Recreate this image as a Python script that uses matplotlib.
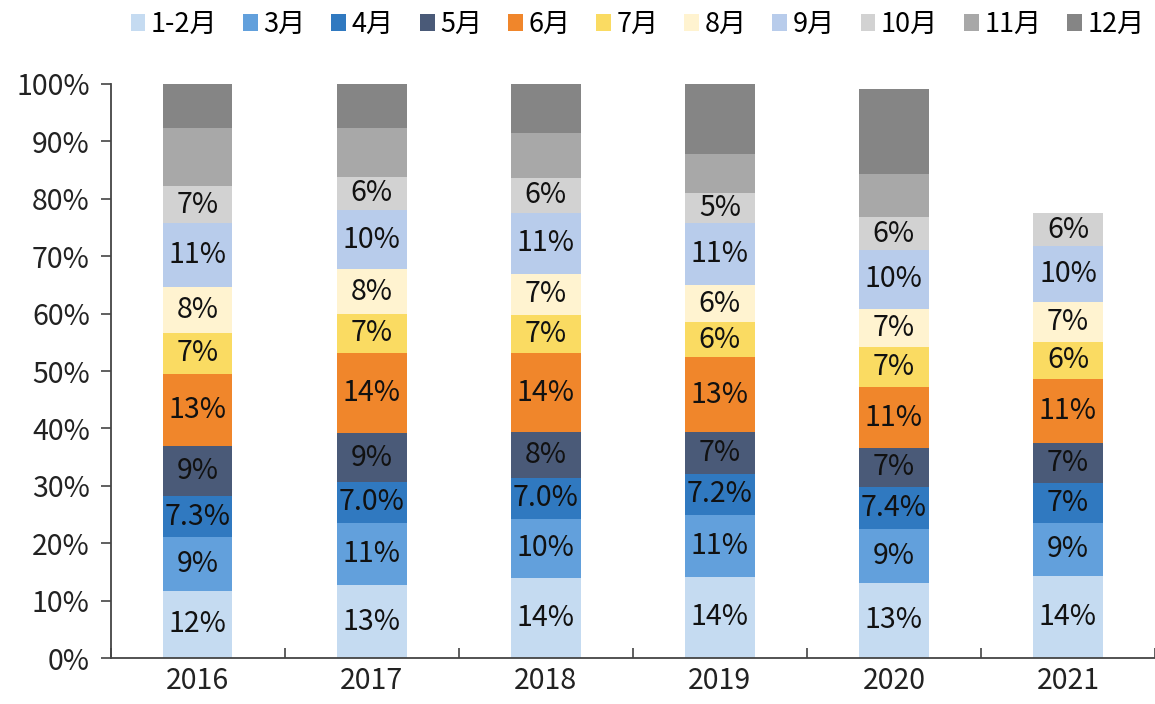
import matplotlib
matplotlib.use("Agg")
import matplotlib.pyplot as plt
import numpy as np
from matplotlib.patches import Patch

plt.rcParams['font.family'] = ['Noto Sans CJK SC', 'DejaVu Sans']

years = ['2016', '2017', '2018', '2019', '2020', '2021']
months = ['1-2月', '3月', '4月', '5月', '6月', '7月', '8月', '9月', '10月', '11月', '12月']

m12 = [11.7, 12.7, 13.9, 14.2, 13.1, 14.3]
m3 = [9.3, 10.9, 10.4, 10.7, 9.3, 9.3]
m4 = [7.3, 7.0, 7.0, 7.2, 7.4, 6.9]
m5 = [8.6, 8.6, 8.1, 7.3, 6.8, 6.9]
m6 = [12.6, 13.9, 13.7, 13.0, 10.6, 11.2]
m7 = [7.1, 6.9, 6.7, 6.1, 6.9, 6.5]
m8 = [8.0, 7.7, 7.1, 6.4, 6.7, 6.9]
m9 = [11.1, 10.4, 10.7, 10.8, 10.3, 9.7]
m10 = [6.6, 5.7, 6.1, 5.3, 5.7, 5.8]
m11 = [10.0, 8.5, 7.8, 6.8, 7.5, 0.0]
m12b = [7.7, 7.7, 8.5, 12.2, 14.8, 0.0]

series = [m12, m3, m4, m5, m6, m7, m8, m9, m10, m11, m12b]
# 4月 labels shown with one decimal (2021 rounded)
m4_labels = ['7.3%', '7.0%', '7.0%', '7.2%', '7.4%', '7%']
labelled = [True, True, True, True, True, True, True, True, True, False, False]

colors = ['#C5DBF1', '#62A0DC', '#3079C0', '#4A5A78', '#F0862B', '#FADB62',
          '#FFF3D0', '#B8CCEB', '#D2D2D2', '#A8A8A8', '#858585']

fig = plt.figure(figsize=(11.55, 7.04), dpi=100)
ax = fig.add_axes([0.0958, 0.0653, 0.9042, 0.8154])

x = np.arange(len(years))
bottom = np.zeros(len(years))
for i, (vals, c) in enumerate(zip(series, colors)):
    vals = np.array(vals)
    ax.bar(x, vals, 0.4, bottom=bottom, color=c, edgecolor='none', zorder=2)
    if labelled[i]:
        for j in range(len(years)):
            if vals[j] <= 0:
                continue
            if i == 2:
                txt = m4_labels[j]
            else:
                txt = f'{vals[j]:.0f}%'
            ax.text(x[j], bottom[j] + vals[j] / 2, txt, ha='center', va='center',
                    fontsize=20.5, color='#111111', zorder=3)
    bottom += vals

ax.set_xlim(-0.5, 5.5)
ax.set_ylim(0, 100)
ax.set_yticks(np.arange(0, 101, 10))
ax.set_yticklabels([f'{v}%' for v in range(0, 101, 10)], fontsize=20.5, color='#222222')
ax.set_xticks(x)
ax.set_xticklabels(years, fontsize=20.5, color='#222222')
ax.set_xticks(np.arange(-0.5, 6.0, 1.0), minor=True)
ax.tick_params(axis='x', which='major', length=0, pad=6)
ax.tick_params(axis='x', which='minor', direction='in', length=7, width=1.2, color='#444444')
ax.tick_params(axis='y', direction='out', length=7, width=1.2, color='#444444', pad=8)
for s in ['top', 'right']:
    ax.spines[s].set_visible(False)
for s in ['left', 'bottom']:
    ax.spines[s].set_color('#444444')
    ax.spines[s].set_linewidth(1.3)

handles = [Patch(facecolor=c, edgecolor='none') for c in colors]
fig.legend(handles, months, loc='center', bbox_to_anchor=(0.552, 0.965), ncol=11,
           frameon=False, fontsize=19.5, handlelength=0.55, handleheight=0.55,
           handletextpad=0.2, columnspacing=0.95, borderaxespad=0)

fig.savefig('out.png', dpi=100)
